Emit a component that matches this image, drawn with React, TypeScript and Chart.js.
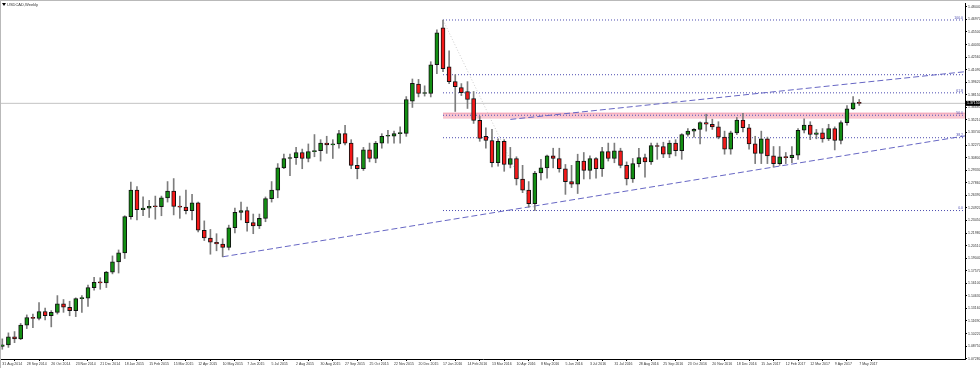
import { useEffect, useRef } from "react";
import { Chart, registerables } from "chart.js";

Chart.register(...registerables);

const symbolTitle = "USDCAD,Weekly";

// week 0 = 31 Aug 2014, one candle per week
const dateLabels = [
  "31 Aug 2014", "28 Sep 2014", "26 Oct 2014", "23 Nov 2014", "21 Dec 2014", "18 Jan 2015",
  "15 Feb 2015", "15 Mar 2015", "12 Apr 2015", "10 May 2015", "7 Jun 2015", "5 Jul 2015",
  "2 Aug 2015", "30 Aug 2015", "27 Sep 2015", "25 Oct 2015", "22 Nov 2015", "20 Dec 2015",
  "17 Jan 2016", "14 Feb 2016", "13 Mar 2016", "10 Apr 2016", "8 May 2016", "5 Jun 2016",
  "3 Jul 2016", "31 Jul 2016", "28 Aug 2016", "25 Sep 2016", "23 Oct 2016", "20 Nov 2016",
  "18 Dec 2016", "15 Jan 2017", "12 Feb 2017", "12 Mar 2017", "9 Apr 2017", "7 May 2017",
];

const opens = [
  1.087, 1.089, 1.0985, 1.096, 1.112, 1.121, 1.12, 1.128, 1.123, 1.127, 1.137, 1.133, 1.129, 1.143, 1.1435, 1.156,
  1.162, 1.1615, 1.174, 1.186, 1.1965, 1.239, 1.27, 1.247, 1.249, 1.251, 1.2505, 1.261, 1.269, 1.251, 1.25, 1.246,
  1.255, 1.223, 1.214, 1.209, 1.207, 1.203, 1.226, 1.244, 1.246, 1.232, 1.228, 1.237, 1.26, 1.27, 1.296, 1.307,
  1.308, 1.314, 1.307, 1.315, 1.316, 1.325, 1.323, 1.324, 1.336, 1.325, 1.299, 1.295, 1.317, 1.307, 1.325, 1.333,
  1.333, 1.336, 1.3364, 1.374, 1.394, 1.383, 1.383, 1.4167, 1.4597, 1.4143, 1.3969, 1.3899, 1.3853, 1.3771, 1.3515, 1.333,
  1.328, 1.302, 1.327, 1.3, 1.307, 1.283, 1.27, 1.254, 1.29, 1.296, 1.31, 1.307, 1.295, 1.28, 1.277, 1.304,
  1.293, 1.307, 1.295, 1.315, 1.307, 1.316, 1.299, 1.283, 1.301, 1.308, 1.303, 1.322, 1.321, 1.312, 1.325, 1.316,
  1.335, 1.339, 1.341, 1.349, 1.347, 1.344, 1.332, 1.318, 1.337, 1.352, 1.343, 1.324, 1.313, 1.33, 1.31, 1.301,
  1.309, 1.308, 1.311, 1.34, 1.346, 1.335, 1.337, 1.33, 1.342, 1.328, 1.349, 1.365, 1.372,
];
const highs = [
  1.096, 1.103, 1.1045, 1.114, 1.124, 1.125, 1.1385, 1.132, 1.129, 1.1466, 1.142, 1.14, 1.144, 1.1465, 1.159, 1.168,
  1.1675, 1.175, 1.193, 1.2, 1.24, 1.2795, 1.274, 1.262, 1.258, 1.263, 1.263, 1.28, 1.2835, 1.263, 1.27, 1.265,
  1.256, 1.234, 1.224, 1.219, 1.213, 1.229, 1.249, 1.256, 1.25, 1.242, 1.242, 1.262, 1.28, 1.301, 1.312, 1.312,
  1.32, 1.318, 1.324, 1.335, 1.329, 1.333, 1.329, 1.34, 1.3457, 1.329, 1.308, 1.32, 1.325, 1.327, 1.336, 1.34,
  1.339, 1.344, 1.3794, 1.4, 1.3995, 1.392, 1.4202, 1.4574, 1.469, 1.4329, 1.405, 1.3946, 1.3969, 1.3853, 1.3562, 1.343,
  1.341, 1.33, 1.329, 1.32, 1.309, 1.299, 1.28, 1.292, 1.306, 1.311, 1.319, 1.319, 1.3, 1.299, 1.312, 1.314,
  1.31, 1.308, 1.32, 1.325, 1.325, 1.319, 1.303, 1.307, 1.319, 1.312, 1.325, 1.325, 1.326, 1.328, 1.329, 1.336,
  1.342, 1.342, 1.35, 1.3588, 1.353, 1.35, 1.339, 1.339, 1.355, 1.3598, 1.347, 1.333, 1.339, 1.332, 1.321, 1.321,
  1.314, 1.321, 1.342, 1.3535, 1.35, 1.341, 1.342, 1.347, 1.344, 1.351, 1.369, 1.3793, 1.376,
];
const lows = [
  1.0838, 1.086, 1.0915, 1.095, 1.108, 1.109, 1.118, 1.118, 1.11, 1.125, 1.127, 1.123, 1.122, 1.127, 1.134, 1.153,
  1.154, 1.156, 1.172, 1.173, 1.19, 1.236, 1.235, 1.24, 1.238, 1.236, 1.24, 1.256, 1.241, 1.237, 1.242, 1.235,
  1.221, 1.211, 1.195, 1.199, 1.192, 1.2, 1.22, 1.235, 1.222, 1.219, 1.225, 1.233, 1.256, 1.261, 1.295, 1.287,
  1.3, 1.295, 1.303, 1.309, 1.304, 1.313, 1.307, 1.319, 1.323, 1.295, 1.2832, 1.293, 1.303, 1.302, 1.319, 1.325,
  1.325, 1.325, 1.3329, 1.3667, 1.379, 1.38, 1.379, 1.4062, 1.4085, 1.3946, 1.362, 1.3806, 1.3655, 1.348, 1.3271, 1.319,
  1.297, 1.298, 1.292, 1.296, 1.276, 1.267, 1.25, 1.2461, 1.282, 1.284, 1.296, 1.291, 1.265, 1.273, 1.266, 1.283,
  1.283, 1.284, 1.286, 1.304, 1.302, 1.296, 1.276, 1.279, 1.297, 1.285, 1.3, 1.306, 1.308, 1.308, 1.31, 1.306,
  1.333, 1.332, 1.324, 1.339, 1.341, 1.33, 1.312, 1.312, 1.335, 1.338, 1.318, 1.301, 1.301, 1.301, 1.2969, 1.299,
  1.301, 1.302, 1.306, 1.337, 1.329, 1.33, 1.326, 1.328, 1.317, 1.324, 1.346, 1.364, 1.369,
];
const closes = [
  1.089, 1.0985, 1.096, 1.112, 1.121, 1.12, 1.128, 1.123, 1.127, 1.137, 1.133, 1.129, 1.143, 1.1435, 1.156, 1.162,
  1.1615, 1.174, 1.186, 1.1965, 1.239, 1.27, 1.247, 1.249, 1.251, 1.2505, 1.261, 1.269, 1.251, 1.25, 1.246, 1.255,
  1.223, 1.214, 1.209, 1.207, 1.203, 1.226, 1.244, 1.246, 1.232, 1.228, 1.237, 1.26, 1.27, 1.296, 1.307, 1.308,
  1.314, 1.307, 1.315, 1.316, 1.325, 1.323, 1.324, 1.336, 1.325, 1.299, 1.295, 1.317, 1.307, 1.325, 1.333, 1.333,
  1.336, 1.3364, 1.376, 1.395, 1.383, 1.3838, 1.4167, 1.4539, 1.412, 1.3969, 1.3911, 1.3841, 1.376, 1.3515, 1.3306, 1.328,
  1.302, 1.327, 1.3, 1.307, 1.283, 1.27, 1.254, 1.29, 1.296, 1.31, 1.307, 1.295, 1.28, 1.277, 1.304, 1.293,
  1.307, 1.295, 1.315, 1.307, 1.316, 1.299, 1.283, 1.301, 1.308, 1.303, 1.322, 1.321, 1.312, 1.325, 1.316, 1.335,
  1.339, 1.341, 1.349, 1.347, 1.344, 1.332, 1.318, 1.337, 1.352, 1.343, 1.324, 1.313, 1.33, 1.31, 1.301, 1.309,
  1.308, 1.311, 1.34, 1.346, 1.335, 1.337, 1.33, 1.342, 1.328, 1.349, 1.365, 1.372, 1.3715,
];

const priceTicks = [
  1.4844, 1.4697, 1.455, 1.4403, 1.4256, 1.4109, 1.3962, 1.3815, 1.3668, 1.3521, 1.3374, 1.3227,
  1.308, 1.2933, 1.2786, 1.2639, 1.2492, 1.2345, 1.2198, 1.2051, 1.1904, 1.1757, 1.161, 1.1463,
  1.1316, 1.1169, 1.1022, 1.0875, 1.0728,
];

const currentPrice = 1.3715;

// retracement of the Jan 2016 high / May 2016 low swing
const levelStartWeek = 72;
const levelPrices = [1.469, 1.405, 1.3838, 1.3576, 1.3313, 1.2461];
const levelNames = ["100.0", "", "61.8", "50.0", "38.2", "0.0"];
const zoneTop = 1.36;
const zoneBottom = 1.3545;

const swingWeeks = [72, 87];
const swingPrices = [1.469, 1.2461];

const X_MIN = -0.212;
const X_MAX = 157.28;
const Y_MIN = 1.07242;
const Y_MAX = 1.48877;

// dashed channel lines
const lowerTrendWeeks = [36, X_MAX];
const lowerTrendPrices = [1.192, 1.3334];
const upperTrendWeeks = [83, X_MAX];
const upperTrendPrices = [1.3527, 1.4085];

const GREEN = "#138f13";
const RED = "#f51919";
const FONT = "'Liberation Sans', Arial, sans-serif";

export default function App() {
  const ref = useRef<HTMLCanvasElement>(null);

  useEffect(() => {
    document.body.style.margin = "0";
    const canvas = ref.current!;

    const bodies = opens.map((o, k) => ({ x: k, y: [o, closes[k]] }));
    const wicks = lows.map((l, k) => ({ x: k, y: [l, highs[k]] }));
    const bodyColors = opens.map((o, k) => (closes[k] >= o ? GREEN : RED));

    const hline = (p: number, x0: number, x1: number) => [
      { x: x0, y: p },
      { x: x1, y: p },
    ];

    const lineDs = (data: any[], color: string, dash: number[], order: number, extra: any = {}) => ({
      type: "line" as const,
      data,
      borderColor: color,
      borderWidth: 1,
      borderDash: dash,
      pointRadius: 0,
      fill: false,
      order,
      ...extra,
    });

    const overlay = {
      id: "overlay",
      afterDraw(chart: any) {
        const ctx = chart.ctx as CanvasRenderingContext2D;
        const ys = chart.scales.y;
        const area = chart.chartArea;
        ctx.save();
        // window frame
        ctx.fillStyle = "#b9b9b9";
        ctx.fillRect(0, 0, 980, 1);
        ctx.fillRect(0, 0, 1, 368);
        // title
        ctx.fillStyle = "#000";
        ctx.beginPath();
        ctx.moveTo(2, 3);
        ctx.lineTo(6, 3);
        ctx.lineTo(4, 6);
        ctx.closePath();
        ctx.fill();
        ctx.font = `4px ${FONT}`;
        ctx.fillStyle = "#333";
        ctx.textBaseline = "middle";
        ctx.fillText(symbolTitle, 7, 4.5);
        // level names
        ctx.font = `3.5px ${FONT}`;
        ctx.fillStyle = "#4d4db0";
        ctx.textAlign = "right";
        ctx.textBaseline = "bottom";
        levelPrices.forEach((p, k) => {
          if (levelNames[k]) ctx.fillText(levelNames[k], area.right - 2, ys.getPixelForValue(p) - 0.5);
        });
        // current price box
        const yp = ys.getPixelForValue(currentPrice);
        ctx.fillStyle = "#000";
        ctx.fillRect(area.right, yp - 2.5, 15, 5);
        ctx.fillStyle = "#fff";
        ctx.textAlign = "left";
        ctx.textBaseline = "middle";
        ctx.fillText(currentPrice.toFixed(5), area.right + 2, yp);
        ctx.restore();
      },
    };

    const chart = new Chart(canvas, {
      type: "bar",
      data: {
        datasets: [
          {
            type: "bar",
            data: bodies as any,
            backgroundColor: bodyColors,
            borderColor: "#111",
            borderWidth: 1,
            borderSkipped: false,
            barThickness: 4,
            minBarLength: 1,
            grouped: false,
            order: 0,
          } as any,
          {
            type: "bar",
            data: wicks as any,
            backgroundColor: "#7d7d7d",
            borderWidth: 0,
            barThickness: 1,
            grouped: false,
            order: 1,
          } as any,
          lineDs(hline(zoneTop, levelStartWeek, X_MAX), "#f19aae", [], 6, {
            backgroundColor: "#f9c5d0",
            fill: "+1",
          }),
          lineDs(hline(zoneBottom, levelStartWeek, X_MAX), "#f19aae", [], 6),
          lineDs(hline(currentPrice, X_MIN, X_MAX), "#c3c3c3", [], 5),
          ...levelPrices.map((p) => lineDs(hline(p, levelStartWeek, X_MAX), "#4d4db0", [1, 2], 3)),
          lineDs(
            swingWeeks.map((w, k) => ({ x: w, y: swingPrices[k] })),
            "#cccccc",
            [1, 2],
            4
          ),
          lineDs(
            lowerTrendWeeks.map((w, k) => ({ x: w, y: lowerTrendPrices[k] })),
            "#6767c4",
            [6, 3],
            2
          ),
          lineDs(
            upperTrendWeeks.map((w, k) => ({ x: w, y: upperTrendPrices[k] })),
            "#6767c4",
            [6, 3],
            2
          ),
        ] as any,
      },
      options: {
        responsive: false,
        animation: false,
        devicePixelRatio: 1,
        layout: { padding: { left: 1, top: 1, right: 0, bottom: 0 } },
        plugins: {
          legend: { display: false },
          tooltip: { enabled: false },
        },
        scales: {
          x: {
            type: "linear",
            min: X_MIN,
            max: X_MAX,
            offset: false,
            grid: { display: true, drawOnChartArea: false, drawTicks: true, tickLength: 2, color: "#000" },
            border: { display: true, color: "#000" },
            afterBuildTicks: (s: any) => {
              s.ticks = dateLabels.map((_, k) => ({ value: k * 4 }));
            },
            afterFit: (s: any) => {
              s.height = 9;
            },
            ticks: {
              autoSkip: false,
              maxRotation: 0,
              minRotation: 0,
              align: "start",
              padding: 1,
              color: "#333",
              font: { size: 3.5, family: FONT },
              callback: (v: any) => dateLabels[Math.round(Number(v) / 4)] ?? "",
            },
          },
          y: {
            type: "linear",
            position: "right",
            min: Y_MIN,
            max: Y_MAX,
            grid: { display: true, drawOnChartArea: false, drawTicks: true, tickLength: 2, color: "#000" },
            border: { display: true, color: "#000" },
            afterBuildTicks: (s: any) => {
              s.ticks = priceTicks.map((v) => ({ value: v }));
            },
            afterFit: (s: any) => {
              s.width = 15;
            },
            ticks: {
              padding: 1,
              color: "#333",
              font: { size: 3.5, family: FONT },
              callback: (v: any) => Number(v).toFixed(5),
            },
          },
        } as any,
      },
      plugins: [overlay],
    });
    return () => chart.destroy();
  }, []);

  return (
    <div style={{ width: 980, height: 368 }}>
      <canvas ref={ref} width={980} height={368} style={{ display: "block" }} />
    </div>
  );
}
